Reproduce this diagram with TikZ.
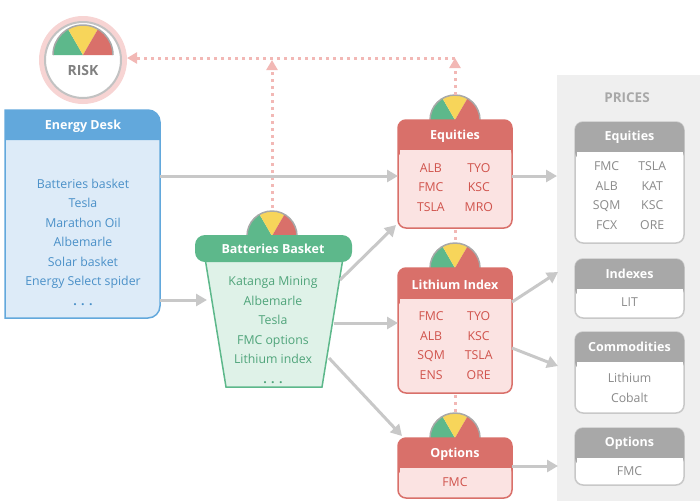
\documentclass[tikz,border=0pt]{standalone}
\usepackage{fontspec}
\setmainfont{Open Sans}
\usetikzlibrary{arrows.meta}
\definecolor{deskblue}{HTML}{62A8DC}
\definecolor{deskfill}{HTML}{DDEBF8}
\definecolor{desktext}{HTML}{4A90C8}
\definecolor{basketgreen}{HTML}{5DB88B}
\definecolor{basketfill}{HTML}{DFF2E8}
\definecolor{baskettext}{HTML}{4FA47A}
\definecolor{riskred}{HTML}{D9706A}
\definecolor{riskfill}{HTML}{FBE3E2}
\definecolor{risktext}{HTML}{D0534C}
\definecolor{pricegray}{HTML}{A8A8A8}
\definecolor{pricetext}{HTML}{8A8A8A}
\definecolor{panelgray}{HTML}{EFEFEF}
\definecolor{linkgray}{HTML}{C8C8C8}
\definecolor{dotpink}{HTML}{F2B8B5}
\definecolor{gaugegreen}{HTML}{5DB88B}
\definecolor{gaugeyellow}{HTML}{F7D55A}
\definecolor{gaugered}{HTML}{D9706A}
\tikzset{
	headstyle/.style={text=white,font=\fontsize{12.5}{15}\selectfont\bfseries},
	itemstyle/.style={align=center,font=\fontsize{12.3}{19.5}\selectfont},
	linkstyle/.style={draw=linkgray,line width=3,-{Triangle[length=11,width=12]}},
	riskstyle/.style={draw=dotpink,line width=3,dash pattern=on 3 off 4,-{Triangle[length=10,width=11]}}
}
\newcommand{\riskgauge}[2]{% centre, radius
	\fill[gaugegreen] #1 -- ++(180:#2) arc[start angle=180,end angle=120,radius=#2] -- cycle;
	\fill[gaugeyellow] #1 -- ++(120:#2) arc[start angle=120,end angle=60,radius=#2] -- cycle;
	\fill[gaugered] #1 -- ++(60:#2) arc[start angle=60,end angle=0,radius=#2] -- cycle;
	\draw[pricegray,line width=1.5] #1 ++(0:#2) arc[start angle=0,end angle=180,radius=#2];
}
\begin{document}
\begin{tikzpicture}[x=1pt,y=-1pt]
	\useasboundingbox (0,0) rectangle (700,501);
	% prices panel
	\fill[panelgray] (557,75) rectangle (700,501);
	\node[text=pricegray,font=\fontsize{13.5}{15}\selectfont\bfseries] (prices) at (627,98) {PRICES};
	% risk dial
	\fill[dotpink!60] (83,60) circle[radius=44];
	\draw[pricegray!70,line width=2,fill=white] (83,60) circle[radius=38];
	\begin{scope}[y=1pt]
		\riskgauge{(83,-55)}{30}
	\end{scope}
	\node[text=gray,font=\fontsize{14}{16}\selectfont\bfseries] (risk) at (83,70) {RISK};
	% energy desk
	\draw[deskblue,line width=1.5,fill=deskfill] (5,110) [rounded corners=12] -- (160,110) -- (160,318) [sharp corners] -- (5,318) -- cycle;
	\fill[deskblue] (5,110) [rounded corners=12] -- (160,110) [sharp corners] -- (160,140) -- (5,140) -- cycle;
	\node[headstyle] (deskhead) at (83,126) {Energy Desk};
	\node[itemstyle,text=desktext] (desk) at (83,242) {Batteries basket\\Tesla\\Marathon Oil\\Albemarle\\Solar basket\\Energy Select spider\\\textbf{. . .}};
	% batteries basket
	\begin{scope}[y=1pt]
		\riskgauge{(272,-236)}{25}
	\end{scope}
	\draw[basketgreen,line width=1.5,fill=basketfill] (205,258) -- (343,258) -- (322,387) -- (226,387) -- cycle;
	\fill[basketgreen,rounded corners=10] (195,235) rectangle (352,262);
	\node[headstyle] (baskethead) at (273,249) {Batteries Basket};
	\node[itemstyle,text=baskettext] (basket) at (273,330) {Katanga Mining\\Albemarle\\Tesla\\FMC options\\Lithium index\\\textbf{. . .}};
	% equities
	\begin{scope}[y=1pt]
		\riskgauge{(455,-120)}{25}
		\riskgauge{(455,-268)}{25}
		\riskgauge{(455,-438)}{25}
	\end{scope}
	\draw[riskred,line width=1.5,fill=riskfill,rounded corners=8] (398,120) rectangle (512,228);
	\fill[riskred,rounded corners=8] (398,120) rectangle (512,158);
	\fill[riskfill] (399.5,150) rectangle (510.5,160);
	\node[headstyle] (eqhead) at (455,136) {Equities};
	\node[itemstyle,text=risktext] (eq) at (455,188) {\begin{tabular}{@{}c@{\hspace{20pt}}c@{}}ALB&TYO\\FMC&KSC\\TSLA&MRO\end{tabular}};
	% lithium index
	\draw[riskred,line width=1.5,fill=riskfill,rounded corners=8] (398,268) rectangle (512,393);
	\fill[riskred,rounded corners=8] (398,268) rectangle (512,307);
	\fill[riskfill] (399.5,299) rectangle (510.5,309);
	\node[headstyle] (lithead) at (455,285) {Lithium Index};
	\node[itemstyle,text=risktext] (lit) at (455,346) {\begin{tabular}{@{}c@{\hspace{20pt}}c@{}}FMC&TYO\\ALB&KSC\\SQM&TSLA\\ENS&ORE\end{tabular}};
	% options
	\draw[riskred,line width=1.5,fill=riskfill,rounded corners=8] (398,438) rectangle (512,498);
	\fill[riskred,rounded corners=8] (398,438) rectangle (512,476);
	\fill[riskfill] (399.5,468) rectangle (510.5,478);
	\node[headstyle] (opthead) at (455,454) {Options};
	\node[itemstyle,text=risktext] (opt) at (455,482) {FMC};
	% price boxes
	\foreach \top/\bot/\name in {122/243/Equities,259/318/Indexes,332/413/Commodities,428/485/Options}{
		\draw[linkgray,line width=1.5,fill=white,rounded corners=8] (575,\top) rectangle (684,\bot);
		\fill[pricegray,rounded corners=8] (575,\top) rectangle (684,\top+38);
		\fill[white] (576.5,\top+30) rectangle (682.5,\top+40);
		\node[headstyle] at (629.5,\top+15) {\name};
	}
	\node[itemstyle,text=pricetext] (peq) at (629.5,196) {\begin{tabular}{@{}c@{\hspace{18pt}}c@{}}FMC&TSLA\\ALB&KAT\\SQM&KSC\\FCX&ORE\end{tabular}};
	\node[itemstyle,text=pricetext] (pidx) at (629.5,302) {LIT};
	\node[itemstyle,text=pricetext] (pcom) at (629.5,388) {Lithium\\Cobalt};
	\node[itemstyle,text=pricetext] (popt) at (629.5,471) {FMC};
	% risk roll-up
	\coordinate (corner) at (455,58);
	\coordinate (riskin) at (127,58);
	\draw[riskstyle] (455,95) -- (corner);
	\draw[riskstyle] (corner) -- (riskin);
	\draw[riskstyle] (272,208) -- (272,60);
	\draw[dotpink,line width=3,dash pattern=on 3 off 4] (455,230) -- (455,243);
	\draw[dotpink,line width=3,dash pattern=on 3 off 4] (455,395) -- (455,413);
	% flows
	\draw[linkstyle] (160,176) -- (398,176);
	\draw[linkstyle] (160,300) -- (207,300);
	\draw[linkstyle] (340,280) -- (396,225);
	\draw[linkstyle] (334,323) -- (398,323);
	\draw[linkstyle] (329,358) -- (402,436);
	\draw[linkstyle] (512,176) -- (557,176);
	\draw[linkstyle] (512,302) -- (558,272);
	\draw[linkstyle] (512,348) -- (558,366);
	\draw[linkstyle] (512,466) -- (558,466);
\end{tikzpicture}
\end{document}
